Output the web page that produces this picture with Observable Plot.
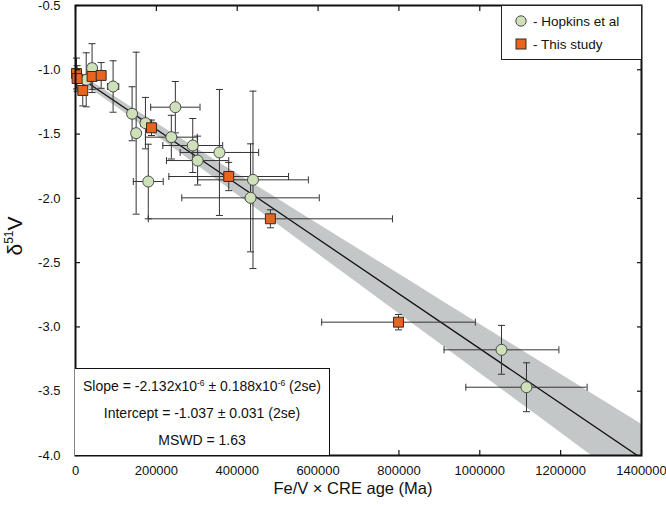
<!DOCTYPE html>
<html>
<head>
<meta charset="utf-8">
<script src="https://cdn.jsdelivr.net/npm/d3@7"></script>
<script src="https://cdn.jsdelivr.net/npm/@observablehq/plot@0.6"></script>
<style>
  body { margin: 0; background: #fff; }
  #wrap { position: relative; width: 666px; height: 505px; font-family: "Liberation Sans", Arial, Helvetica, sans-serif; color: #111; }
  #wrap svg { overflow: visible; }
  .ov { position: absolute; }
  #legend { left: 501px; top: 5px; width: 139px; height: 53px; border: 1px solid #222; background: #fff; font-size: 13.5px; }
  #legend .row { position: absolute; left: 13px; display: flex; align-items: center; height: 16px; }
  #legend .row span { margin-left: 6px; }
  #stats { left: 75px; top: 368px; width: 254px; height: 86px; border: 1.3px solid #111; border-bottom: none; border-left: none; background: #fff; font-size: 14px; }
  #stats div { position: absolute; left: 0; width: 100%; text-align: center; }
  sup { font-size: 8.5px; vertical-align: 5px; line-height: 0; }
  #xlab { left: 70px; width: 566px; top: 479px; text-align: center; font-size: 16.5px; }
  #ylab { left: 15px; top: 236px; font-size: 21px; transform: translate(-50%,-50%) rotate(-90deg); white-space: nowrap; }
  #ylab sup { font-size: 12px; vertical-align: 9px; }
</style>
</head>
<body>
<div id="wrap"></div>
<script>
// ---- data ----
const hopkinsX    = [41000, 26500, 93000, 140000, 150000, 173000, 247000, 237000, 290000, 356000, 302000, 180000, 439000, 433000, 1053700, 1115500];
const hopkinsXErr = [8000, 8000, 14000, 10000, 8000, 12000, 61000, 64000, 74000, 97000, 77000, 37000, 137000, 170000, 142000, 150000];
const hopkinsY    = [-0.987, -1.078, -1.13, -1.342, -1.493, -1.415, -1.291, -1.524, -1.589, -1.643, -1.706, -1.869, -1.856, -1.996, -3.178, -3.469];
const hopkinsYErr = [0.19, 0.21, 0.20, 0.21, 0.63, 0.20, 0.20, 0.17, 0.21, 0.49, 0.19, 0.29, 0.69, 0.42, 0.19, 0.19];

const studyX    = [2500, 4000, 18000, 41000, 63500, 188000, 379000, 482000, 799000];
const studyXErr = [3000, 3000, 5000, 5000, 6000, 8000, 148000, 302000, 190000];
const studyY    = [-1.029, -1.068, -1.161, -1.052, -1.044, -1.451, -1.83, -2.159, -2.963];
const studyYErr = [0.12, 0.10, 0.12, 0.10, 0.10, 0.06, 0.11, 0.07, 0.06];

// regression stated on the chart
const fitSlope = -2.132e-6, fitSlopeErr = 0.188e-6;
const fitIntercept = -1.037, fitInterceptErr = 0.031;
const xDomain = [0, 1400000];
const yDomain = [-4.0, -0.5];
const xTicks = [0, 200000, 400000, 600000, 800000, 1000000, 1200000, 1400000];
const yTicks = [-0.5, -1.0, -1.5, -2.0, -2.5, -3.0, -3.5, -4.0];

// ---- build tables ----
const hopkins = hopkinsX.map((x, i) => ({x, xe: hopkinsXErr[i], y: hopkinsY[i], ye: hopkinsYErr[i]}));
const study = studyX.map((x, i) => ({x, xe: studyXErr[i], y: studyY[i], ye: studyYErr[i]}));
const fitLine = xDomain.map(x => ({x, y: fitIntercept + fitSlope * x}));
const band = d3.range(0, 1400001, 50000).map(x => {
  const c = fitIntercept + fitSlope * x;
  const h = Math.sqrt(fitInterceptErr ** 2 + (fitSlopeErr * x) ** 2);
  return {x, lo: c - h, hi: c + h};
});

const hCap = {draw(ctx, size) { const r = Math.sqrt(size / Math.PI); ctx.moveTo(-r, 0); ctx.lineTo(r, 0); }};
const vCap = {draw(ctx, size) { const r = Math.sqrt(size / Math.PI); ctx.moveTo(0, -r); ctx.lineTo(0, r); }};
const ebColor = "#333";

function errMarks(data) {
  return [
    Plot.ruleY(data, {y: "y", x1: d => d.x - d.xe, x2: d => d.x + d.xe, stroke: ebColor, strokeWidth: 1}),
    Plot.ruleX(data, {x: "x", y1: d => d.y - d.ye, y2: d => d.y + d.ye, stroke: ebColor, strokeWidth: 1}),
    Plot.dot(data, {x: d => d.x - d.xe, y: "y", symbol: vCap, r: 3.5, stroke: ebColor, fill: "none", strokeWidth: 1}),
    Plot.dot(data, {x: d => d.x + d.xe, y: "y", symbol: vCap, r: 3.5, stroke: ebColor, fill: "none", strokeWidth: 1}),
    Plot.dot(data, {x: "x", y: d => d.y - d.ye, symbol: hCap, r: 3.5, stroke: ebColor, fill: "none", strokeWidth: 1}),
    Plot.dot(data, {x: "x", y: d => d.y + d.ye, symbol: hCap, r: 3.5, stroke: ebColor, fill: "none", strokeWidth: 1})
  ];
}

const chart = Plot.plot({
  width: 666, height: 505,
  marginLeft: 75, marginRight: 25, marginTop: 5, marginBottom: 50,
  style: {fontFamily: '"Liberation Sans", Arial, Helvetica, sans-serif', fontSize: "13px", color: "#111", background: "transparent"},
  x: {domain: xDomain, label: null},
  y: {domain: yDomain, label: null},
  marks: [
    Plot.areaY(band, {x: "x", y1: "lo", y2: "hi", fill: "#c4c7c7", clip: true}),
    Plot.line(fitLine, {x: "x", y: "y", stroke: "#111", strokeWidth: 1.3, clip: true}),
    ...errMarks(hopkins),
    ...errMarks(study),
    Plot.dot(hopkins, {x: "x", y: "y", symbol: "circle", r: 5.5, fill: "#cfe1b9", stroke: "#4a4a4a", strokeWidth: 1}),
    Plot.dot(study, {x: "x", y: "y", symbol: "square", r: 5.6, fill: "#e8651f", stroke: "#3a2a1a", strokeWidth: 1}),
    Plot.axisX(xTicks, {anchor: "bottom", tickSize: 0, tickPadding: 10, tickFormat: d3.format("d"), fontSize: 13}),
    Plot.axisX(xTicks, {anchor: "bottom", tickSize: -5, tickFormat: () => "", strokeWidth: 1.2}),
    Plot.axisX(xTicks, {anchor: "top", tickSize: -5, tickFormat: () => "", strokeWidth: 1.2}),
    Plot.axisY(yTicks, {anchor: "left", tickSize: 0, tickPadding: 15, tickFormat: d => d.toFixed(1), fontSize: 13}),
    Plot.axisY(yTicks, {anchor: "left", tickSize: -5, tickFormat: () => "", strokeWidth: 1.2}),
    Plot.axisY(yTicks, {anchor: "right", tickSize: -5, tickFormat: () => "", strokeWidth: 1.2}),
    Plot.frame({stroke: "#111", strokeWidth: 2})
  ]
});

const wrap = document.getElementById("wrap");
wrap.appendChild(chart);

wrap.insertAdjacentHTML("beforeend", `
<div id="legend" class="ov">
  <div class="row" style="top:7px"><svg width="12" height="12"><circle cx="6" cy="6" r="5.2" fill="#cfe1b9" stroke="#4a4a4a"/></svg><span>- Hopkins et al</span></div>
  <div class="row" style="top:30px"><svg width="12" height="12"><rect x="1" y="1" width="10" height="10" fill="#e8651f" stroke="#3a2a1a"/></svg><span>- This study</span></div>
</div>
<div id="stats" class="ov">
  <div style="top:9px">Slope = -2.132x10<sup>-6</sup> ± 0.188x10<sup>-6</sup> (2se)</div>
  <div style="top:36px">Intercept = -1.037 ± 0.031 (2se)</div>
  <div style="top:63px">MSWD = 1.63</div>
</div>
<div id="xlab" class="ov">Fe/V × CRE age (Ma)</div>
<div id="ylab" class="ov">δ<sup>51</sup>V</div>
`);
</script>
</body>
</html>
